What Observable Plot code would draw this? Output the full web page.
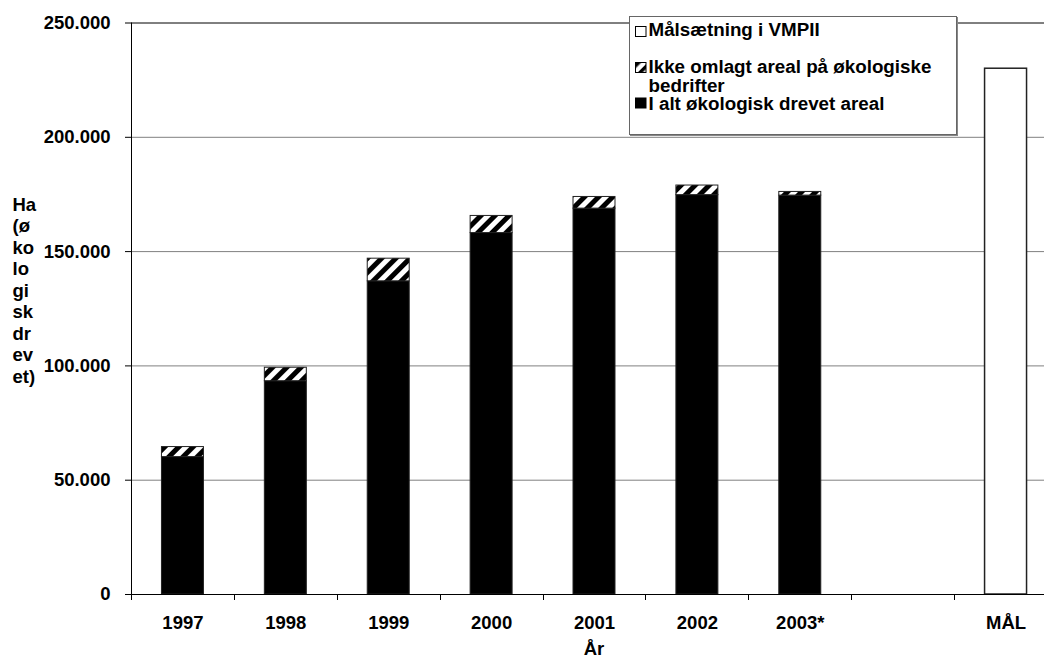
<!DOCTYPE html>
<html>
<head>
<meta charset="utf-8">
<script src="https://cdn.jsdelivr.net/npm/d3@7"></script>
<script src="https://cdn.jsdelivr.net/npm/@observablehq/plot@0.6"></script>
<style>
  html, body { margin: 0; padding: 0; background: #fff; }
  #wrap { position: relative; width: 1044px; height: 659px; overflow: hidden; }
  #wrap svg { display: block; }
  #legend { position: absolute; left: 628px; top: 15px; }
</style>
</head>
<body>
<div id="wrap"></div>
<script>
// ---- data ----
const categories = ["1997", "1998", "1999", "2000", "2001", "2002", "2003*", " ", "MÅL"];
const years = ["1997", "1998", "1999", "2000", "2001", "2002", "2003*"];
const organicArea = [60100, 93300, 137000, 158100, 168800, 174700, 174500];
const unconvertedArea = [4400, 5900, 9900, 7500, 5100, 4200, 1600];
const goalCategory = ["MÅL"];
const goalValue = [230000];
const seriesNames = ["I alt økologisk drevet areal", "Ikke omlagt areal på økologiske bedrifter", "Målsætning i VMPII"];
const yTicks = [0, 50000, 100000, 150000, 200000, 250000];
const yLabelLines = ["Ha", "(ø", "ko", "lo", "gi", "sk", "dr", "ev", "et)"];
const xLabel = "År";
const legendLines = [["Målsætning i VMPII"], ["Ikke omlagt areal på økologiske", "bedrifter"], ["I alt økologisk drevet areal"]];

// ---- tables built from the arrays ----
const stackRows = [];
years.forEach((yr, i) => {
  stackRows.push({cat: yr, series: seriesNames[0], value: organicArea[i]});
  stackRows.push({cat: yr, series: seriesNames[1], value: unconvertedArea[i]});
});
const goalRows = goalCategory.map((c, i) => ({cat: c, value: goalValue[i]}));

const FONT = "'Liberation Sans', Arial, Helvetica, sans-serif";
const FS = 18.5;
const loc = d3.formatLocale({decimal: ",", thousands: ".", grouping: [3], currency: ["", ""]});
const fmt = loc.format(",");

function boundaryTicks(index, scales, values, dims) {
  const x = scales.x;
  const step = x(categories[1]) - x(categories[0]);
  const bw = x.bandwidth ? x.bandwidth() : 0;
  const y0 = dims.height - dims.marginBottom;
  const g = d3.create("svg:g").attr("stroke", "#000").attr("stroke-width", 1);
  categories.forEach(c => {
    const bx = Math.round(x(c) - (step - bw) / 2) + 0.5;
    g.append("line").attr("x1", bx).attr("x2", bx).attr("y1", y0).attr("y2", y0 + 6);
  });
  return g.node();
}
function leftAxisLine(index, scales, values, dims) {
  const xx = dims.marginLeft + 0.5;
  return d3.create("svg:line")
    .attr("x1", xx).attr("x2", xx)
    .attr("y1", dims.marginTop).attr("y2", dims.height - dims.marginBottom)
    .attr("stroke", "#000").node();
}

const chart = Plot.plot({
  width: 1044,
  height: 659,
  marginTop: 22.5,
  marginBottom: 65,
  marginLeft: 131,
  marginRight: 0,
  style: {fontFamily: FONT, fontWeight: "bold", fontSize: FS + "px", background: "#fff", color: "#000"},
  x: {type: "band", domain: categories, range: [131, 1057], round: false, paddingInner: 0.592, paddingOuter: 0.296, align: 0.5},
  y: {domain: [0, 250000]},
  color: {type: "ordinal", domain: seriesNames.slice(0, 2), range: ["#000", "url(#hatch)"]},
  marks: [
    Plot.ruleY(yTicks.filter(d => d > 0 && d < 250000), {stroke: "#808080", strokeWidth: 1}),
    Plot.ruleY([250000], {stroke: "#000", strokeWidth: 1}),
    Plot.barY(stackRows, {x: "cat", y: "value", fill: "series", stroke: "#222", strokeWidth: 1}),
    Plot.barY(goalRows, {x: "cat", y: "value", fill: "#fff", stroke: "#222", strokeWidth: 1.5}),
    Plot.ruleY([0], {stroke: "#000", strokeWidth: 1}),
    leftAxisLine,
    boundaryTicks,
    Plot.axisX({tickSize: 0, tickPadding: 21, fontSize: FS, fontWeight: "bold", label: null}),
    Plot.axisY({ticks: yTicks, tickSize: 6, tickPadding: 15, tickFormat: d => fmt(d), fontSize: FS, fontWeight: "bold", label: null}),
    Plot.text([yLabelLines.join("\n")], {frameAnchor: "left", textAnchor: "start", dx: -119, dy: -19, lineHeight: 1.162, fontSize: FS, fontWeight: "bold"}),
    Plot.text([xLabel], {frameAnchor: "bottom", dx: 6, dy: 60.5, fontSize: FS, fontWeight: "bold"})
  ]
});

// hatch pattern definition
const defs = d3.select(chart).insert("defs", ":first-child");
const pat = defs.append("pattern").attr("id", "hatch").attr("patternUnits", "userSpaceOnUse")
  .attr("width", 10).attr("height", 10).attr("patternTransform", "rotate(45)");
pat.append("rect").attr("width", 10).attr("height", 10).attr("fill", "#fff");
pat.append("rect").attr("width", 5).attr("height", 10).attr("fill", "#000");

document.getElementById("wrap").appendChild(chart);

// ---- legend ----
const lg = d3.select("#wrap").append("svg").attr("id", "legend")
  .attr("width", 331).attr("height", 122);
const ldefs = lg.append("defs");
const lp = ldefs.append("pattern").attr("id", "hatchL").attr("patternUnits", "userSpaceOnUse")
  .attr("x", 7.5).attr("y", 47.5)
  .attr("width", 8).attr("height", 8).attr("patternTransform", "rotate(45)");
lp.append("rect").attr("width", 8).attr("height", 8).attr("fill", "#fff");
lp.append("rect").attr("width", 3.5).attr("height", 8).attr("fill", "#000");
lg.append("rect").attr("x", 1.5).attr("y", 1.5).attr("width", 327).attr("height", 118)
  .attr("fill", "#fff").attr("stroke", "#666").attr("stroke-width", 1);
lg.append("line").attr("x1", 329.5).attr("x2", 329.5).attr("y1", 2).attr("y2", 121).attr("stroke", "#888").attr("stroke-width", 1);
lg.append("line").attr("x1", 2).attr("x2", 330).attr("y1", 120.5).attr("y2", 120.5).attr("stroke", "#888").attr("stroke-width", 1);
const swFill = ["#fff", "url(#hatchL)", "#000"];
const baselines = [[21], [57.5, 77.2], [94.5]];
const swTop = [11.5, 47.5, 83];
legendLines.forEach((lines, i) => {
  lg.append("rect").attr("x", 7.5).attr("y", swTop[i]).attr("width", 10.5).attr("height", 10)
    .attr("fill", swFill[i]).attr("stroke", "#000").attr("stroke-width", 1);
  lines.forEach((t, j) => {
    lg.append("text").attr("x", 20.5).attr("y", baselines[i][j]).text(t)
      .attr("font-family", FONT).attr("font-weight", "bold").attr("font-size", 18.8).attr("fill", "#000");
  });
});
</script>
</body>
</html>
